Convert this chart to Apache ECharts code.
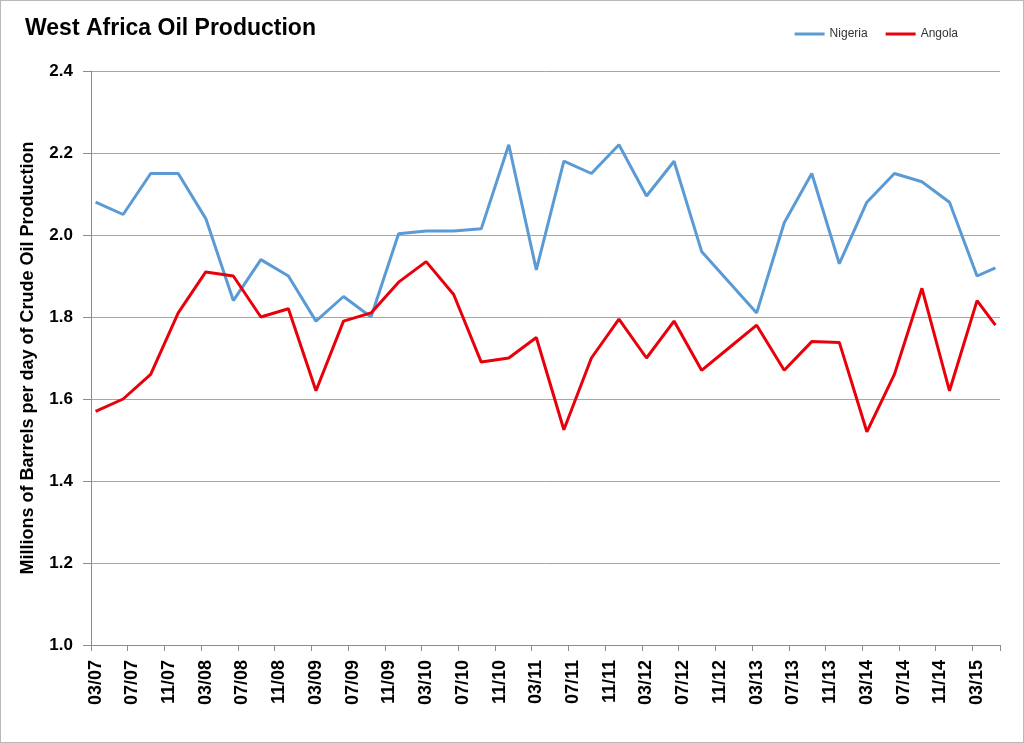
<!DOCTYPE html>
<html>
<head>
<meta charset="utf-8">
<title>West Africa Oil Production</title>
<script src="https://cdn.jsdelivr.net/npm/echarts@6/dist/echarts.min.js"></script>
<style>
    html, body { margin: 0; padding: 0; background: #fff; }
    #chart { width: 1024px; height: 743px; box-sizing: border-box; border: 1px solid #b8b8b8; }
</style>
</head>
<body>
<div id="chart"></div>
<script>
// quarterly readings (last one is May 2015)
var dates = ['03/07', '06/07', '09/07', '12/07', '03/08', '06/08', '09/08', '12/08',
    '03/09', '06/09', '09/09', '12/09', '03/10', '06/10', '09/10', '12/10',
    '03/11', '06/11', '09/11', '12/11', '03/12', '06/12', '09/12', '12/12',
    '03/13', '06/13', '09/13', '12/13', '03/14', '06/14', '09/14', '12/14',
    '03/15', '05/15'];
var nigeria = [2.08, 2.05, 2.15, 2.15, 2.04, 1.84, 1.94, 1.90,
    1.79, 1.85, 1.80, 2.003, 2.01, 2.01, 2.015, 2.22,
    1.915, 2.18, 2.15, 2.22, 2.095, 2.18, 1.96, 1.885,
    1.81, 2.03, 2.15, 1.93, 2.08, 2.15, 2.13, 2.08,
    1.90, 1.92];
var angola = [1.57, 1.60, 1.66, 1.81, 1.91, 1.90, 1.80, 1.82,
    1.62, 1.79, 1.81, 1.885, 1.935, 1.855, 1.69, 1.70,
    1.75, 1.525, 1.70, 1.795, 1.70, 1.79, 1.67, 1.725,
    1.78, 1.67, 1.74, 1.738, 1.52, 1.66, 1.87, 1.62,
    1.84, 1.78];
var yTicks = [1.0, 1.2, 1.4, 1.6, 1.8, 2.0, 2.2, 2.4];

// monthly category axis 03/07 .. 05/15
var months = [];
for (var y = 2007, m = 3; y < 2015 || (y == 2015 && m <= 5); m++) {
    if (m > 12) { m = 1; y++; }
    if (y == 2015 && m > 5) break;
    months.push((m < 10 ? '0' + m : '' + m) + '/' + String(y).slice(2));
}

function pairs(vals) {
    var out = [];
    for (var i = 0; i < vals.length; i++) out.push([dates[i], vals[i]]);
    return out;
}

var chart = echarts.init(document.getElementById('chart'));
var font = '"Liberation Sans", Arial, sans-serif';

var option = {
    animation: false,
    backgroundColor: '#fff',
    title: {
        text: 'West Africa Oil Production',
        left: 19,
        top: 11,
        textStyle: { fontFamily: font, fontSize: 23, fontWeight: 'bold', color: '#000' }
    },
    legend: {
        right: 60,
        top: 22,
        itemWidth: 30,
        itemHeight: 3,
        itemGap: 18,
        icon: 'rect',
        textStyle: { fontFamily: font, fontSize: 12, color: '#333' },
        data: ['Nigeria', 'Angola']
    },
    grid: { left: 90, right: 23, top: 70, bottom: 97, containLabel: false },
    xAxis: {
        type: 'category',
        data: months,
        boundaryGap: true,
        axisLine: { lineStyle: { color: '#8c8c8c', width: 1 } },
        axisTick: { show: true, interval: 3, length: 6, lineStyle: { color: '#8c8c8c' } },
        axisLabel: {
            interval: 3,
            rotate: 90,
            margin: 15,
            fontFamily: font,
            fontSize: 18,
            fontWeight: 'bold',
            color: '#000'
        },
        splitLine: { show: false }
    },
    yAxis: {
        type: 'value',
        min: yTicks[0],
        max: yTicks[yTicks.length - 1],
        interval: 0.2,
        name: 'Millions of Barrels per day of Crude Oil Production',
        nameLocation: 'middle',
        nameGap: 54,
        nameTextStyle: { fontFamily: font, fontSize: 18, fontWeight: 'bold', color: '#000' },
        axisLine: { show: true, lineStyle: { color: '#8c8c8c', width: 1 } },
        axisTick: { show: true, length: 8, lineStyle: { color: '#8c8c8c' } },
        axisLabel: {
            margin: 18,
            fontFamily: font,
            fontSize: 17,
            fontWeight: 'bold',
            color: '#000',
            formatter: function (v) { return v.toFixed(1); }
        },
        splitLine: { lineStyle: { color: '#a6a6a6', width: 1 } }
    },
    series: [
        {
            name: 'Nigeria',
            type: 'line',
            data: pairs(nigeria),
            symbol: 'none',
            color: '#5b9bd5',
            lineStyle: { width: 3, color: '#5b9bd5' }
        },
        {
            name: 'Angola',
            type: 'line',
            data: pairs(angola),
            symbol: 'none',
            color: '#e8000b',
            lineStyle: { width: 3, color: '#e8000b' }
        }
    ]
};

chart.setOption(option);
</script>
</body>
</html>
